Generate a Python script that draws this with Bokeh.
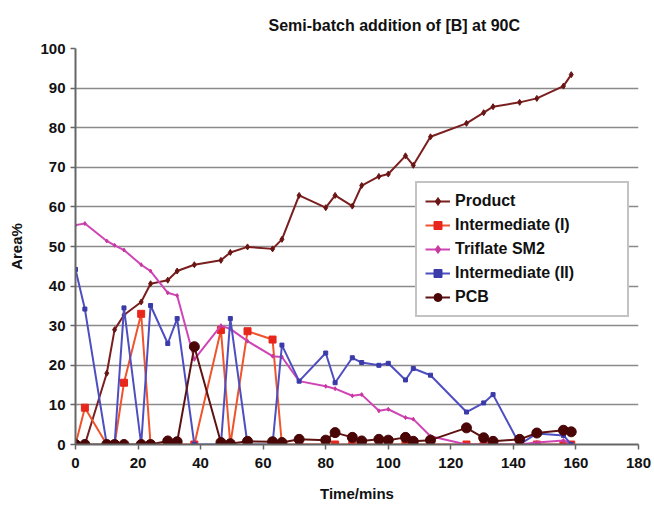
from bokeh.plotting import figure
from bokeh.models import Legend, LegendItem, Range1d, FixedTicker
from bokeh.embed import file_html
from bokeh.resources import INLINE

# ---- data ----
times = [0, 3, 10, 12.5, 15.5, 21, 24, 29.5, 32.5, 38, 46.5, 49.5, 55, 63, 66, 71.5,
         80, 83, 88.5, 91.5, 97, 100, 105.5, 108, 113.5, 125, 130.5, 133.5, 142, 147.5, 156, 158.5]
product = [0, 0, 18, 29, 32.7, 36, 40.6, 41.5, 43.8, 45.4, 46.5, 48.5, 49.9, 49.4, 51.8, 62.9,
           59.8, 62.9, 60.2, 65.4, 67.7, 68.3, 72.9, 70.5, 77.7, 81.1, 83.8, 85.3, 86.4, 87.4, 90.5, 93.4]
intermediate_1 = [0, 9.3, 0, 0, 15.6, 33.0, 0, 0, 0, 0, 28.9, 0, 28.6, 26.5, 0, 0,
                  0, 0, 0, 0, 0, 0, 0, 0, 0, 0, 0, 0, 0, 0, 0, 0]
triflate_sm2 = [55.4, 55.8, 51.4, 50.3, 49.1, 45.4, 43.8, 38.3, 37.6, 21.5, 30.0, 29.2, 26.1, 22.3, 22.1, 16.0,
                14.7, 14.1, 12.3, 12.6, 8.5, 8.9, 6.8, 6.4, 2.1, 0, 0, 0, 0, 0.5, 1.0, 0]
intermediate_2 = [44.2, 34.2, 0, 0, 34.5, 0, 35.1, 25.5, 31.8, 0, 0, 31.8, 0, 0, 25.1, 16.0,
                  23.1, 15.6, 21.9, 20.7, 20.0, 20.5, 16.3, 19.2, 17.5, 8.2, 10.5, 12.6, 0, 2.8, 2.3, 0]
pcb = [0, 0, 0, 0, 0, 0, 0, 0.9, 0.7, 24.7, 0.5, 0.2, 0.8, 0.7, 0.5, 1.3,
       1.1, 3.0, 1.8, 0.9, 1.3, 1.1, 1.8, 0.8, 1.1, 4.2, 1.7, 0.8, 1.3, 2.9, 3.6, 3.2]

x_ticks = [0, 20, 40, 60, 80, 100, 120, 140, 160, 180]
y_ticks = [0, 10, 20, 30, 40, 50, 60, 70, 80, 90, 100]

title_text = "Semi-batch addition of [B] at 90C"
x_label = "Time/mins"
y_label = "Area%"

FONT = "Liberation Sans"

p = figure(width=654, height=505, output_backend="svg", toolbar_location=None,
           x_range=Range1d(0, 180), y_range=Range1d(0, 100),
           min_border_left=75, min_border_right=16, min_border_top=48, min_border_bottom=61,
           background_fill_color="white", border_fill_color="white")
p.outline_line_color = None

p.title.text = title_text
p.title.text_font = FONT
p.title.text_font_style = "bold"
p.title.text_font_size = "16px"
p.title.align = "left"
p.title.offset = 193
p.title.standoff = 29
p.title.text_color = "#111111"

p.xgrid.visible = False
p.ygrid.ticker = FixedTicker(ticks=y_ticks)
p.ygrid.grid_line_color = "#8a8a8a"
p.ygrid.grid_line_width = 1.6

for ax, ticks in ((p.xaxis, x_ticks), (p.yaxis, y_ticks)):
    ax.ticker = FixedTicker(ticks=ticks)
    ax.axis_line_color = "#666666"
    ax.axis_line_width = 2
    ax.major_tick_line_color = "#666666"
    ax.major_tick_line_width = 1.5
    ax.major_tick_in = 0
    ax.major_tick_out = 5
    ax.minor_tick_line_color = None
    ax.major_label_text_font = FONT
    ax.major_label_text_font_style = "bold"
    ax.major_label_text_font_size = "15px"
    ax.major_label_text_color = "#111111"
    ax.axis_label_text_font = FONT
    ax.axis_label_text_font_style = "bold"
    ax.axis_label_text_font_size = "15px"
    ax.axis_label_text_color = "#111111"

p.xaxis.axis_label = x_label
p.yaxis.axis_label = y_label
p.xaxis.major_label_standoff = 8
p.yaxis.major_label_standoff = 5
p.xaxis.axis_label_standoff = 14
p.yaxis.axis_label_standoff = 12

series = [
    ("Product", product, "#7a1e1e", "diamond", 6, "#6a1414"),
    ("Intermediate (I)", intermediate_1, "#f0542c", "square", 7, "#e8261c"),
    ("Triflate SM2", triflate_sm2, "#d045b5", "diamond", 4, "#c8389f"),
    ("Intermediate (II)", intermediate_2, "#4e4ec0", "square", 4, "#3a3aa8"),
    ("PCB", pcb, "#5e1212", "circle", 10, "#4a0606"),
]

items = []
for name, vals, lc, marker, size, mc in series:
    lr = p.line(times, vals, line_color=lc, line_width=2)
    sr = p.scatter(times, vals, marker=marker, size=size, fill_color=mc, line_color=mc)
    items.append(LegendItem(label=name, renderers=[lr, sr]))

legend = Legend(items=items, location=(340, 127),
                label_text_font=FONT, label_text_font_style="bold", label_text_font_size="16px",
                label_text_color="#111111",
                glyph_width=25, glyph_height=20, label_height=20, label_width=164,
                spacing=4, padding=8, label_standoff=5,
                border_line_color="#888888", border_line_width=2,
                background_fill_color="white", background_fill_alpha=1.0)
p.add_layout(legend)

open("out.html", "w").write(file_html(p, INLINE))
